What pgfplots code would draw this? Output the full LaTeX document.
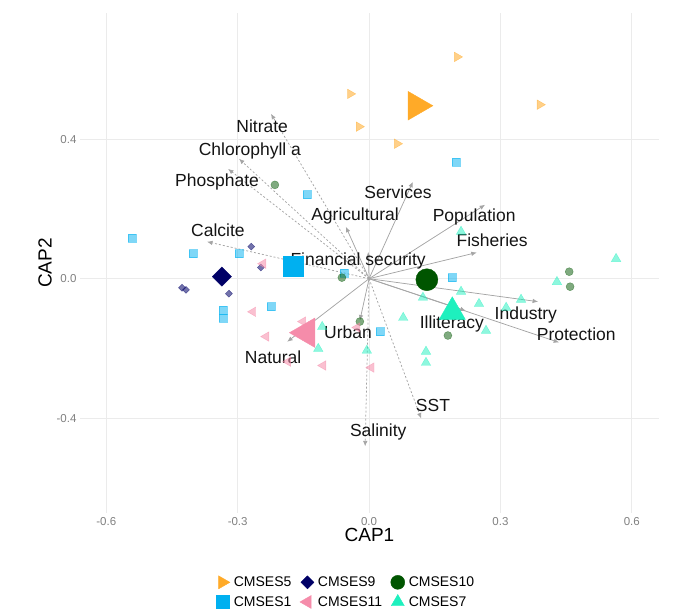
\documentclass[border=0pt]{standalone}
\usepackage{pgfplots}
\pgfplotsset{compat=1.18}
\usepackage{fontspec}
\setmainfont{Liberation Sans}
\usetikzlibrary{arrows.meta}
\definecolor{c5}{RGB}{255,170,40}
\definecolor{c9}{RGB}{0,0,102}
\definecolor{c10}{RGB}{0,85,0}
\definecolor{c1}{RGB}{0,176,240}
\definecolor{c11}{RGB}{245,140,170}
\definecolor{c7}{RGB}{30,240,190}
\definecolor{arr}{RGB}{165,165,165}
\definecolor{gridc}{RGB}{235,235,235}
\tikzset{
  arrs/.style={draw=arr, line width=0.75pt, -{Latex[length=5.5pt,width=4.5pt]}},
  arrd/.style={draw=arr, line width=0.75pt, dash pattern=on 2pt off 2pt, -{Latex[length=5.5pt,width=4.5pt]}},
  lab/.style={font=\fontsize{17.5}{20}\selectfont, text=black!92, inner sep=0pt}
}
\begin{document}
\begin{tikzpicture}[x=1pt,y=1pt]
\path[use as bounding box] (-80,-99) rectangle (601,513);
\begin{axis}[at={(0,0)}, anchor=south west, scale only axis,
  width=579pt, height=500pt,
  xmin=-0.66, xmax=0.662, ymin=-0.672, ymax=0.762,
  axis line style={draw=none}, tick style={draw=none},
  xtick={-0.6,-0.3,0,0.3,0.6}, ytick={-0.4,0,0.4},
  xticklabels={-0.6,-0.3,0.0,0.3,0.6}, yticklabels={-0.4,0.0,0.4},
  grid=major, major grid style={draw=gridc, line width=0.8pt},
  ticklabel style={font=\fontsize{11.5}{13}\selectfont, text=black!50},
  xticklabel style={yshift=-1pt},
  xlabel={CAP1}, ylabel={CAP2},
  xlabel style={at={(axis description cs:0.5,-0.044)}, anchor=center, font=\fontsize{19}{22}\selectfont},
  ylabel style={at={(axis description cs:-0.0605,0.5)}, anchor=center, font=\fontsize{19}{22}\selectfont},
  clip=false,
  legend columns=3,
  legend cell align=left,
  legend style={at={(axis description cs:0.459,-0.124)}, anchor=north, draw=none, fill=none,
    font=\fontsize{14}{16}\selectfont, inner sep=0pt, row sep=5pt,
    /tikz/every odd column/.append style={column sep=2.5pt},
    /tikz/every even column/.append style={column sep=7pt},
    nodes={inner sep=1.5pt}}
]
% legend images
\addlegendimage{only marks, mark=triangle*, mark size=7.5pt, color=c5, mark options={rotate=-90}}
\addlegendentry{CMSES5}
\addlegendimage{only marks, mark=square*, mark size=4.6pt, color=c9, mark options={rotate=45}}
\addlegendentry{CMSES9}
\addlegendimage{only marks, mark=*, mark size=7pt, color=c10}
\addlegendentry{CMSES10}
\addlegendimage{only marks, mark=square*, mark size=6.5pt, color=c1}
\addlegendentry{CMSES1}
\addlegendimage{only marks, mark=triangle*, mark size=7.5pt, color=c11, mark options={rotate=90}}
\addlegendentry{CMSES11}
\addlegendimage{only marks, mark=triangle*, mark size=7.5pt, color=c7}
\addlegendentry{CMSES7}

% arrows (environmental: dashed)
\addplot[arrd, forget plot] coordinates {(0,0) (-0.224,0.473)};
\addplot[arrd, forget plot] coordinates {(0,0) (-0.297,0.344)};
\addplot[arrd, forget plot] coordinates {(0,0) (-0.322,0.315)};
\addplot[arrd, forget plot] coordinates {(0,0) (-0.370,0.106)};
\addplot[arrd, forget plot] coordinates {(0,0) (0.119,-0.401)};
\addplot[arrd, forget plot] coordinates {(0,0) (-0.009,-0.481)};
% arrows (socio-economic: solid)
\addplot[arrs, forget plot] coordinates {(0,0) (-0.053,0.149)};
\addplot[arrs, forget plot] coordinates {(0,0) (-0.002,0.077)};
\addplot[arrs, forget plot] coordinates {(0,0) (0.100,0.278)};
\addplot[arrs, forget plot] coordinates {(0,0) (0.265,0.212)};
\addplot[arrs, forget plot] coordinates {(0,0) (0.246,0.075)};
\addplot[arrs, forget plot] coordinates {(0,0) (0.386,-0.066)};
\addplot[arrs, forget plot] coordinates {(0,0) (0.434,-0.183)};
\addplot[arrs, forget plot] coordinates {(0,0) (0.221,-0.092)};
\addplot[arrs, forget plot] coordinates {(0,0) (-0.021,-0.120)};
\addplot[arrs, forget plot] coordinates {(0,0) (-0.187,-0.181)};

% small points
\addplot[only marks, forget plot, mark=triangle*, mark size=5.5pt, color=c5, opacity=0.55, mark options={rotate=-90}]
 coordinates {(0.201,0.636) (-0.043,0.530) (-0.023,0.436) (0.064,0.387) (0.390,0.499)};
\addplot[only marks, forget plot, mark=square*, mark size=4pt, color=c1, opacity=0.5]
 coordinates {(-0.541,0.117) (-0.402,0.072) (-0.297,0.072) (-0.142,0.241) (-0.057,0.017) (0.199,0.335) (0.189,0.003) (-0.333,-0.089) (-0.333,-0.112) (-0.224,-0.080) (0.025,-0.152)};
\addplot[only marks, forget plot, mark=square*, mark size=2.5pt, color=c9, opacity=0.55, mark options={rotate=45}]
 coordinates {(-0.269,0.092) (-0.247,0.032) (-0.427,-0.026) (-0.418,-0.032) (-0.320,-0.043)};
\addplot[only marks, forget plot, mark=*, mark size=4pt, color=c10, opacity=0.5]
 coordinates {(-0.215,0.269) (-0.062,0.003) (-0.021,-0.123) (0.180,-0.163) (0.457,0.020) (0.459,-0.023)};
\addplot[only marks, forget plot, mark=triangle*, mark size=5.5pt, color=c11, opacity=0.55, mark options={rotate=90}]
 coordinates {(-0.242,0.043) (-0.265,-0.095) (-0.235,-0.166) (-0.151,-0.123) (-0.185,-0.238) (-0.105,-0.249) (0.005,-0.255) (-0.027,-0.140)};
\addplot[only marks, forget plot, mark=triangle*, mark size=5.5pt, color=c7, opacity=0.5]
 coordinates {(0.210,0.135) (0.564,0.057) (0.429,-0.009) (0.210,-0.037) (0.251,-0.072) (0.347,-0.060) (0.313,-0.083) (0.267,-0.149) (0.123,-0.054) (0.130,-0.209) (0.130,-0.241) (0.078,-0.112) (-0.107,-0.138) (-0.116,-0.201) (-0.005,-0.206)};

% centroids
\addplot[only marks, forget plot, mark=triangle*, mark size=16.5pt, color=c5, mark options={rotate=-90}]
 coordinates {(0.108,0.496)};
\addplot[only marks, forget plot, mark=square*, mark size=10pt, color=c1]
 coordinates {(-0.174,0.037)};
\addplot[only marks, forget plot, mark=square*, mark size=6.8pt, color=c9, mark options={rotate=45}]
 coordinates {(-0.336,0.006)};
\addplot[only marks, forget plot, mark=*, mark size=11pt, color=c10]
 coordinates {(0.132,-0.003)};
\addplot[only marks, forget plot, mark=triangle*, mark size=17pt, color=c11, mark options={rotate=90}]
 coordinates {(-0.143,-0.155)};
\addplot[only marks, forget plot, mark=triangle*, mark size=15pt, color=c7]
 coordinates {(0.190,-0.095)};

% labels
\node[lab] at (axis cs:-0.244,0.436) {Nitrate};
\node[lab] at (axis cs:-0.272,0.367) {Chlorophyll a};
\node[lab] at (axis cs:-0.347,0.278) {Phosphate};
\node[lab] at (axis cs:-0.345,0.138) {Calcite};
\node[lab] at (axis cs:-0.032,0.181) {Agricultural};
\node[lab] at (axis cs:-0.025,0.052) {Financial security};
\node[lab] at (axis cs:0.066,0.249) {Services};
\node[lab] at (axis cs:0.240,0.178) {Population};
\node[lab] at (axis cs:0.281,0.109) {Fisheries};
\node[lab] at (axis cs:0.358,-0.103) {Industry};
\node[lab] at (axis cs:0.473,-0.158) {Protection};
\node[lab] at (axis cs:0.189,-0.129) {Illiteracy};
\node[lab] at (axis cs:0.146,-0.364) {SST};
\node[lab] at (axis cs:0.021,-0.441) {Salinity};
\node[lab] at (axis cs:-0.048,-0.155) {Urban};
\node[lab] at (axis cs:-0.219,-0.226) {Natural};
\end{axis}
\end{tikzpicture}
\end{document}
